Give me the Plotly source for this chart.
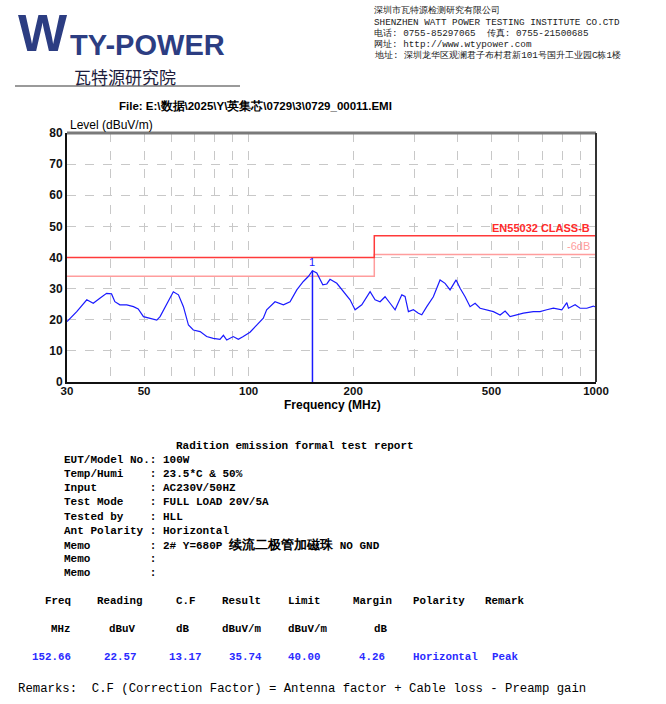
import plotly.graph_objects as go

# ---------------- data ----------------
freq_mhz = [30, 32.0, 34.2, 35.7, 37.3, 39.0, 40.3, 41.2, 42.6, 44.6, 46.6, 48.1, 49.8, 52.0,
            54.4, 55.6, 58.1, 60.7, 62.8, 64.9, 67.1, 69.3, 72.5, 75.7, 79.1, 82.7, 84.6, 86.5,
            90.3, 93.4, 96.5, 100.9, 105.5, 110.2, 112.7, 119.1, 125.9, 131.6, 137.6, 143.7,
            148.5, 152.66, 157.1, 163.5, 167.9, 171.5, 179.4, 187.4, 195.9, 202.5, 211.7, 223.7,
            231.2, 239.0, 247.0, 255.4, 264.0, 276.0, 282.0, 288.4, 298.1, 308.1, 315.1, 325.7,
            340.2, 355.7, 367.7, 380.1, 395.6, 406.2, 419.9, 434.0, 448.7, 463.8, 484.9, 506.6,
            529.6, 547.4, 565.9, 584.8, 618.0, 660.2, 690.2, 721.5, 754.0, 797.3, 824.2, 833.1,
            870.8, 900.0, 940.8, 982.9, 1000]
level_dbuvm = [19.4, 22.6, 26.4, 25.3, 26.9, 28.5, 28.3, 25.8, 24.8, 24.8, 24.2, 23.5, 21.0, 20.5,
               19.9, 21.0, 24.8, 29.0, 28.0, 24.2, 18.3, 16.7, 16.2, 14.6, 14.0, 13.7, 15.0, 13.5,
               14.6, 13.7, 14.6, 16.0, 18.3, 20.5, 23.2, 25.8, 24.8, 25.8, 29.6, 32.3,
               33.9, 35.74, 35.0, 31.2, 31.5, 33.0, 31.7, 29.0, 26.4, 23.2, 24.8, 29.0,
               26.4, 25.8, 27.4, 25.3, 23.2, 28.0, 27.5, 22.6, 23.2, 22.1, 21.6, 24.2,
               27.4, 32.8, 31.7, 29.6, 32.8, 30.1, 27.4, 24.2, 25.3, 23.7, 23.2, 22.6,
               21.5, 22.8, 21.0, 21.5, 22.1, 22.6, 22.6, 23.2, 23.7, 23.2, 25.5, 23.7,
               24.8, 23.7, 23.7, 24.4, 24.0]

limit_freq = [30, 230, 230, 1000]
limit_level = [40, 40, 47, 47]
limit6_level = [34, 34, 41, 41]

marker_freq = 152.66
marker_level = 35.74

x_tick_vals = [30, 50, 100, 200, 500, 1000]
x_minor_vals = [40, 60, 70, 80, 90, 300, 400, 600, 700, 800, 900]
y_tick_vals = [0, 10, 20, 30, 40, 50, 60, 70, 80]

info_labels = ["EUT/Model No.", "Temp/Humi", "Input", "Test Mode", "Tested by",
               "Ant Polarity", "Memo", "Memo", "Memo"]
info_values = ["100W", "23.5*C &amp; 50%", "AC230V/50HZ", "FULL LOAD 20V/5A", "HLL",
               "Horizontal", "2# Y=680P <span style='font-size:13px'>续流二极管加磁珠</span> NO GND", "", ""]

table_headers = ["Freq", "Reading", "C.F", "Result", "Limit", "Margin", "Polarity", "Remark"]
table_units = ["MHz", "dBuV", "dB", "dBuV/m", "dBuV/m", "dB", "", ""]
table_values = ["152.66", "22.57", "13.17", "35.74", "40.00", "4.26", "Horizontal", "Peak"]

# ---------------- layout helpers ----------------
L, R, T, B = 67, 596, 133, 382
PW, PH = R - L, B - T


def px(x):
    return (x - L) / PW


def py(y):
    return (B - y) / PH


annotations = []


def txt(x, y, s, size, color="black", family="Liberation Mono", anchor="left", bold=False):
    annotations.append(dict(xref="paper", yref="paper", x=px(x), y=py(y), text=s,
                            showarrow=False, xanchor=anchor, yanchor="middle",
                            font=dict(size=size, color=color, family=family,
                                      weight="bold" if bold else "normal")))


fig = go.Figure()

fig.add_trace(go.Scatter(x=limit_freq, y=limit6_level, mode="lines",
                         line=dict(color="#ff9d9d", width=1.5), hoverinfo="skip"))
fig.add_trace(go.Scatter(x=limit_freq, y=limit_level, mode="lines",
                         line=dict(color="#ff3a3a", width=1.5), hoverinfo="skip"))
fig.add_trace(go.Scatter(x=freq_mhz, y=level_dbuvm, mode="lines",
                         line=dict(color="#1a1aff", width=1.2)))
fig.add_trace(go.Scatter(x=[marker_freq, marker_freq], y=[0, marker_level], mode="lines",
                         line=dict(color="#1a1aff", width=1.5)))
fig.add_annotation(x=2.1837, y=marker_level, xref="x", yref="y", text="1", showarrow=False,
                   yanchor="bottom", yshift=1, font=dict(size=11, color="#1a1aff", family="Liberation Sans"))
fig.add_annotation(x=3, y=47, xref="x", yref="y", text="EN55032 CLASS-B", showarrow=False,
                   xanchor="right", yanchor="bottom", xshift=-4, yshift=0,
                   font=dict(size=11, color="#ff2a2a", family="Liberation Sans", weight="bold"))
fig.add_annotation(x=3, y=41, xref="x", yref="y", text="-6dB", showarrow=False,
                   xanchor="right", yanchor="bottom", xshift=-4, yshift=0,
                   font=dict(size=11, color="#ff9d9d", family="Liberation Sans"))

# ---------------- header ----------------
txt(16, 33, "W", 52, color="#2c3d82", family="Liberation Sans", bold=True)
txt(68, 45, "TY-POWER", 29, color="#2c3d82", family="Liberation Sans", bold=True)
txt(72, 76, "瓦特源研究院", 17, color="#1c1c3c", family="Noto Sans CJK SC")

hdr = ["深圳市瓦特源检测研究有限公司",
       "SHENZHEN WATT POWER TESTING INSTITUTE CO.CTD",
       "电话: 0755-85297065  传真: 0755-21500685",
       "网址: http://www.wtypower.com",
       "地址: 深圳龙华区观澜君子布村君新101号国升工业园C栋1楼"]
for i, s in enumerate(hdr):
    txt(372, 11 + i * 11.2, s, 9.3, color="#222", family="Liberation Mono")

txt(117, 106, "File: E:\\数据\\2025\\Y\\英集芯\\0729\\3\\0729_00011.EMI", 11.5,
    family="Liberation Sans", bold=True)
txt(68, 125, "Level (dBuV/m)", 12, family="Liberation Sans")
txt(332, 405, "Frequency (MHz)", 12, family="Liberation Sans", anchor="center", bold=True)

# ---------------- text block ----------------
txt(174, 446, "Radition emission formal test report", 11, bold=True)
for i, (lab, val) in enumerate(zip(info_labels, info_values)):
    line = lab.ljust(13).replace(" ", "&nbsp;") + ":&nbsp;" + val
    txt(62, 460.3 + i * 14.05, line, 11, bold=True)

hdr_x = [43, 95, 174, 220, 286, 351, 411, 483]
unit_x = [49, 107, 174, 220, 286, 372]
val_x = [30, 102, 167, 227, 286, 357, 411, 490]
for x, s in zip(hdr_x, table_headers):
    txt(x, 601, s, 10.8, bold=True)
for x, s in zip(unit_x, table_units):
    if s:
        txt(x, 629, s, 10.8, bold=True)
for x, s in zip(val_x, table_values):
    txt(x, 657, s, 10.8, color="#2a2aff", bold=True)

txt(16, 689, "Remarks:&nbsp;&nbsp;C.F (Correction Factor) = Antenna factor + Cable loss - Preamp gain",
    12.3)

fig.update_layout(
    width=666, height=704, autosize=False,
    margin=dict(l=L, r=666 - R, t=T, b=704 - B),
    paper_bgcolor="white", plot_bgcolor="white",
    showlegend=False,
    annotations=fig.layout.annotations + tuple(annotations),
    shapes=[
        dict(type="line", xref="paper", yref="paper", x0=0, x1=1, y0=1, y1=1,
             line=dict(color="#7a7a7a", width=3)),
        dict(type="line", xref="paper", yref="paper", x0=1, x1=1, y0=0, y1=1,
             line=dict(color="#333333", width=2)),
        dict(type="line", xref="paper", yref="paper", x0=px(15), x1=px(240), y0=py(86), y1=py(86),
             line=dict(color="#9a9a9a", width=2)),
    ],
    xaxis=dict(type="log", range=[1.4771, 3.0], tickvals=x_tick_vals,
               ticktext=[str(v) for v in x_tick_vals],
               showgrid=True, gridcolor="#c8c8c8", griddash="dash", gridwidth=1,
               minor=dict(tickvals=x_minor_vals, showgrid=True, gridcolor="#c8c8c8",
                          griddash="dash", gridwidth=1),
               showline=True, linecolor="#111", linewidth=2, ticks="",
               ticklabelstandoff=-3,
               tickfont=dict(family="Liberation Sans", size=11.5, color="#111", weight="bold"),
               zeroline=False),
    yaxis=dict(range=[0, 80], tickvals=y_tick_vals, showgrid=True, gridcolor="#c8c8c8",
               griddash="dash", gridwidth=1, showline=True, linecolor="#111", linewidth=2,
               ticks="", zeroline=False,
               tickfont=dict(family="Liberation Sans", size=12, color="#111", weight="bold")),
)

fig.write_html("out.html")
